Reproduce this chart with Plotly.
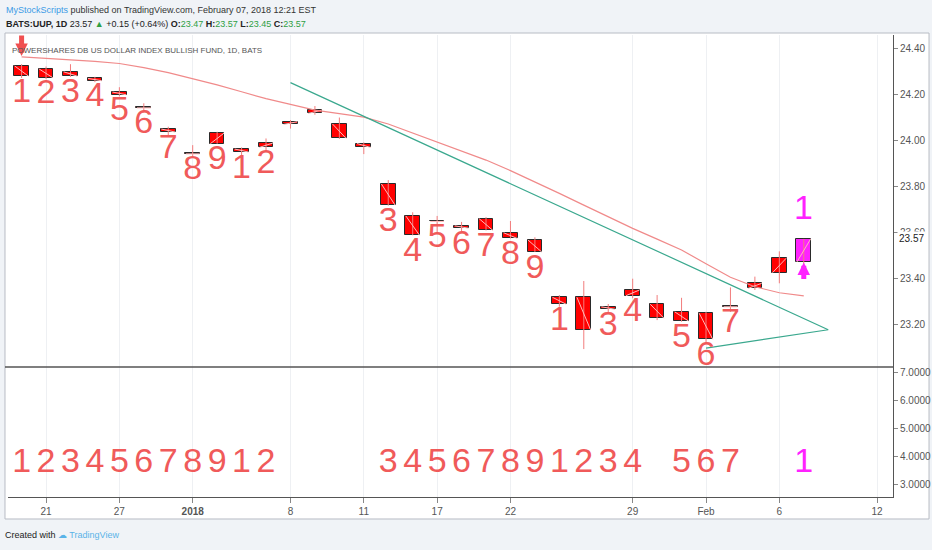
import plotly.graph_objects as go
from plotly.subplots import make_subplots

# trading days Dec 20 2017 .. Feb 7 2018 (bar index 0..32)
opens = [24.322, 24.309, 24.297, 24.268, 24.209, 24.14, 24.048, 23.94, 23.984, 23.961, 23.968,
         24.068, 24.116, 24.07, 23.985, 23.809, 23.67, 23.646, 23.627, 23.658, 23.597, 23.565,
         23.316, 23.316, 23.275, 23.323, 23.286, 23.253, 23.247, 23.275, 23.355, 23.423, 23.47]
highs = [24.33, 24.32, 24.33, 24.275, 24.23, 24.16, 24.058, 23.978, 24.036, 23.968, 24.007,
         24.087, 24.148, 24.098, 23.99, 23.826, 23.686, 23.67, 23.644, 23.665, 23.648, 23.577,
         23.326, 23.387, 23.287, 23.397, 23.326, 23.314, 23.253, 23.359, 23.406, 23.516, 23.57]
lows = [24.27, 24.265, 24.275, 24.252, 24.19, 24.12, 24.017, 23.93, 23.984, 23.935, 23.957,
        24.05, 24.11, 24.005, 23.939, 23.715, 23.586, 23.594, 23.595, 23.607, 23.572, 23.513,
        23.275, 23.091, 23.247, 23.312, 23.217, 23.21, 23.113, 23.253, 23.348, 23.377, 23.45]
closes = [24.278, 24.271, 24.278, 24.258, 24.197, 24.14, 24.035, 23.94, 24.03, 23.948, 23.987,
          24.08, 24.13, 24.007, 23.968, 23.717, 23.586, 23.646, 23.617, 23.607, 23.572, 23.513,
          23.286, 23.174, 23.264, 23.348, 23.225, 23.213, 23.133, 23.275, 23.377, 23.486, 23.57]
ma = [24.362, 24.356, 24.349, 24.342, 24.333, 24.315, 24.293, 24.268, 24.24, 24.21, 24.18,
      24.155, 24.13, 24.115, 24.10, 24.07, 24.03, 23.993, 23.953, 23.913, 23.867, 23.819,
      23.768, 23.717, 23.666, 23.616, 23.569, 23.522, 23.462, 23.403, 23.362, 23.336, 23.322]

# setup counts shown under the bars (main pane) and in the lower pane
upper_idx = [0, 1, 2, 3, 4, 5, 6, 7, 8, 9, 10, 15, 16, 17, 18, 19, 20, 21, 22, 24, 25, 27, 28, 29]
upper_txt = ["1", "2", "3", "4", "5", "6", "7", "8", "9", "1", "2", "3", "4", "5", "6", "7", "8", "9",
             "1", "3", "4", "5", "6", "7"]
lower_idx = [0, 1, 2, 3, 4, 5, 6, 7, 8, 9, 10, 15, 16, 17, 18, 19, 20, 21, 22, 23, 24, 25, 27, 28, 29]
lower_txt = ["1", "2", "3", "4", "5", "6", "7", "8", "9", "1", "2", "3", "4", "5", "6", "7", "8", "9",
             "1", "2", "3", "4", "5", "6", "7"]
lower_level = 3.75
signal_idx = 32
signal_txt = "1"
sell_arrow_idx = 0

# trend lines (bar index, price)
trend_x = [11, 33, 28]
trend_y = [24.25, 23.175, 23.095]

tick_idx = [1, 4, 7, 11, 14, 17, 20, 25, 28, 31, 35]
tick_txt = ["21", "27", "<b>2018</b>", "8", "11", "17", "22", "29", "Feb", "6", "12"]
price_ticks = [23.2, 23.4, 23.6, 23.8, 24.0, 24.2, 24.4]
lower_ticks = [3, 4, 5, 6, 7]
last_price = 23.57

RED = "#ff0000"
MAG = "#ff22ff"
NUM_RED = "#f05a5a"
NARROW = "Liberation Sans Narrow, Liberation Sans, Arial, sans-serif"

idx = list(range(len(opens)))

fig = make_subplots(rows=2, cols=1, shared_xaxes=True, vertical_spacing=0,
                    row_heights=[332, 130])

# wicks
wx, wy = [], []
for i in idx:
    wx += [i, i, None]
    wy += [lows[i], highs[i], None]
fig.add_trace(go.Scatter(x=wx, y=wy, mode="lines", line=dict(color="#f27c7c", width=1),
                         hoverinfo="skip", showlegend=False), row=1, col=1)

# bodies
base = [min(o, c) for o, c in zip(opens, closes)]
height = [max(abs(c - o), 0.004) for o, c in zip(opens, closes)]
colors = [MAG if i == signal_idx else RED for i in idx]
fig.add_trace(go.Bar(x=idx, y=height, base=base, width=0.6,
                     marker=dict(color=colors, line=dict(color="#2a2a2a", width=1)),
                     showlegend=False), row=1, col=1)

# open->close stroke inside each body
dx, dy = [], []
for i in idx:
    dx += [i - 0.28, i + 0.28, None]
    dy += [opens[i], closes[i], None]
fig.add_trace(go.Scatter(x=dx, y=dy, mode="lines", line=dict(color="#ffb8b8", width=1),
                         hoverinfo="skip", showlegend=False), row=1, col=1)

# moving average
fig.add_trace(go.Scatter(x=idx, y=ma, mode="lines", line=dict(color="#f08a8a", width=1.2),
                         showlegend=False), row=1, col=1)

# trend lines
fig.add_trace(go.Scatter(x=trend_x, y=trend_y, mode="lines", line=dict(color="#3aa88e", width=1.2),
                         showlegend=False), row=1, col=1)

# counts under bars
fig.add_trace(go.Scatter(x=upper_idx, y=[base[i] for i in upper_idx], mode="text",
                         text=upper_txt, textposition="bottom center", cliponaxis=True,
                         textfont=dict(family=NARROW, size=34, color=NUM_RED),
                         showlegend=False), row=1, col=1)

# counts in lower pane
fig.add_trace(go.Scatter(x=lower_idx + [signal_idx], y=[lower_level] * (len(lower_idx) + 1),
                         mode="text", text=lower_txt + [signal_txt], textposition="middle center",
                         textfont=dict(family=NARROW, size=34,
                                       color=[NUM_RED] * len(lower_idx) + [MAG]),
                         showlegend=False), row=2, col=1)

# signal label and arrows
fig.add_annotation(x=signal_idx, y=highs[signal_idx], xref="x", yref="y", text=signal_txt,
                   showarrow=False, yanchor="bottom", yshift=11,
                   font=dict(family=NARROW, size=34, color=MAG))
fig.add_annotation(x=signal_idx, y=lows[signal_idx], xref="x", yref="y", text="",
                   showarrow=True, ax=0, ay=18, arrowhead=2, arrowsize=0.5, arrowwidth=5,
                   arrowcolor=MAG, yshift=4)
fig.add_annotation(x=sell_arrow_idx, y=0.937, xref="x", yref="y domain", text="",
                   showarrow=True, ax=0, ay=-22, arrowhead=2, arrowsize=0.5, arrowwidth=5,
                   arrowcolor="#f05050")

# last price label
fig.add_annotation(x=1.004, y=last_price, xref="paper", yref="y", text="23.57", showarrow=False,
                   xanchor="left", yanchor="middle", bgcolor="white", borderpad=1,
                   font=dict(family=NARROW, size=10, color="#222"))

# header / footer texts
fig.add_annotation(x=-0.0045, y=1.054, xref="paper", yref="paper", xanchor="left", yanchor="middle",
                   showarrow=False,
                   text='<span style="color:#3b9be6">MyStockScripts</span> published on TradingView.com, February 07, 2018 12:21 EST',
                   font=dict(family=NARROW, size=9, color="#333"))
fig.add_annotation(x=-0.0045, y=1.0238, xref="paper", yref="paper", xanchor="left", yanchor="middle",
                   showarrow=False,
                   text='<b>BATS:UUP, 1D</b> 23.57 <span style="color:#2ea043">▲</span> +0.15 (+0.64%) '
                        '<b>O:</b><span style="color:#2ea043">23.47</span> <b>H:</b><span style="color:#2ea043">23.57</span> '
                        '<b>L:</b><span style="color:#2ea043">23.45</span> <b>C:</b><span style="color:#2ea043">23.57</span>',
                   font=dict(family=NARROW, size=9, color="#222"))
fig.add_annotation(x=0.0023, y=0.9675, xref="paper", yref="paper", xanchor="left", yanchor="middle",
                   showarrow=False,
                   text="POWERSHARES DB US DOLLAR INDEX BULLISH FUND, 1D, BATS",
                   font=dict(family=NARROW, size=8, color="#555"))
fig.add_annotation(x=-0.0056, y=-0.0823, xref="paper", yref="paper", xanchor="left", yanchor="middle",
                   showarrow=False,
                   text='Created with <span style="color:#5ab3e8">☁ TradingView</span>',
                   font=dict(family=NARROW, size=9, color="#222"))

# white chart panel and pane separator
fig.add_shape(type="rect", xref="paper", yref="paper", x0=-0.0034, x1=1.0407, y0=-0.0476, y1=1.0043,
              fillcolor="white", line=dict(color="#b8bcc4", width=1), layer="below")
fig.add_shape(type="line", xref="paper", yref="paper", x0=-0.0034, x1=1.0, y0=130 / 462, y1=130 / 462,
              line=dict(color="#555", width=1.5))

axis_font = dict(family=NARROW, size=10, color="#555")
fig.update_xaxes(range=[-0.556, 35.65], tickvals=tick_idx, ticktext=tick_txt, showgrid=True,
                 gridcolor="#eef0f3", zeroline=False, tickfont=axis_font, automargin=False)
fig.update_xaxes(showticklabels=False, ticks="", row=1, col=1)
fig.update_xaxes(ticks="outside", ticklen=5, tickcolor="#888", showline=True, linecolor="#555",
                 row=2, col=1)
fig.update_yaxes(side="right", showgrid=False, zeroline=False, ticks="outside", ticklen=4,
                 tickcolor="#888", showline=True, linecolor="#555", tickfont=axis_font,
                 automargin=False)
fig.update_yaxes(range=[23.013, 24.457], tickvals=price_ticks, tickformat=".2f", row=1, col=1)
fig.update_yaxes(range=[2.536, 7.18], tickvals=lower_ticks, tickformat=".4f", row=2, col=1)

fig.update_layout(width=932, height=550, margin=dict(l=8, r=39, t=35, b=53),
                  paper_bgcolor="#f0f3f7", plot_bgcolor="white", bargap=0,
                  showlegend=False, font=dict(family=NARROW))

fig.write_html("out.html", config={"displayModeBar": False},
               post_script="document.body.style.margin='0';document.body.style.background='#f0f3f7';")
